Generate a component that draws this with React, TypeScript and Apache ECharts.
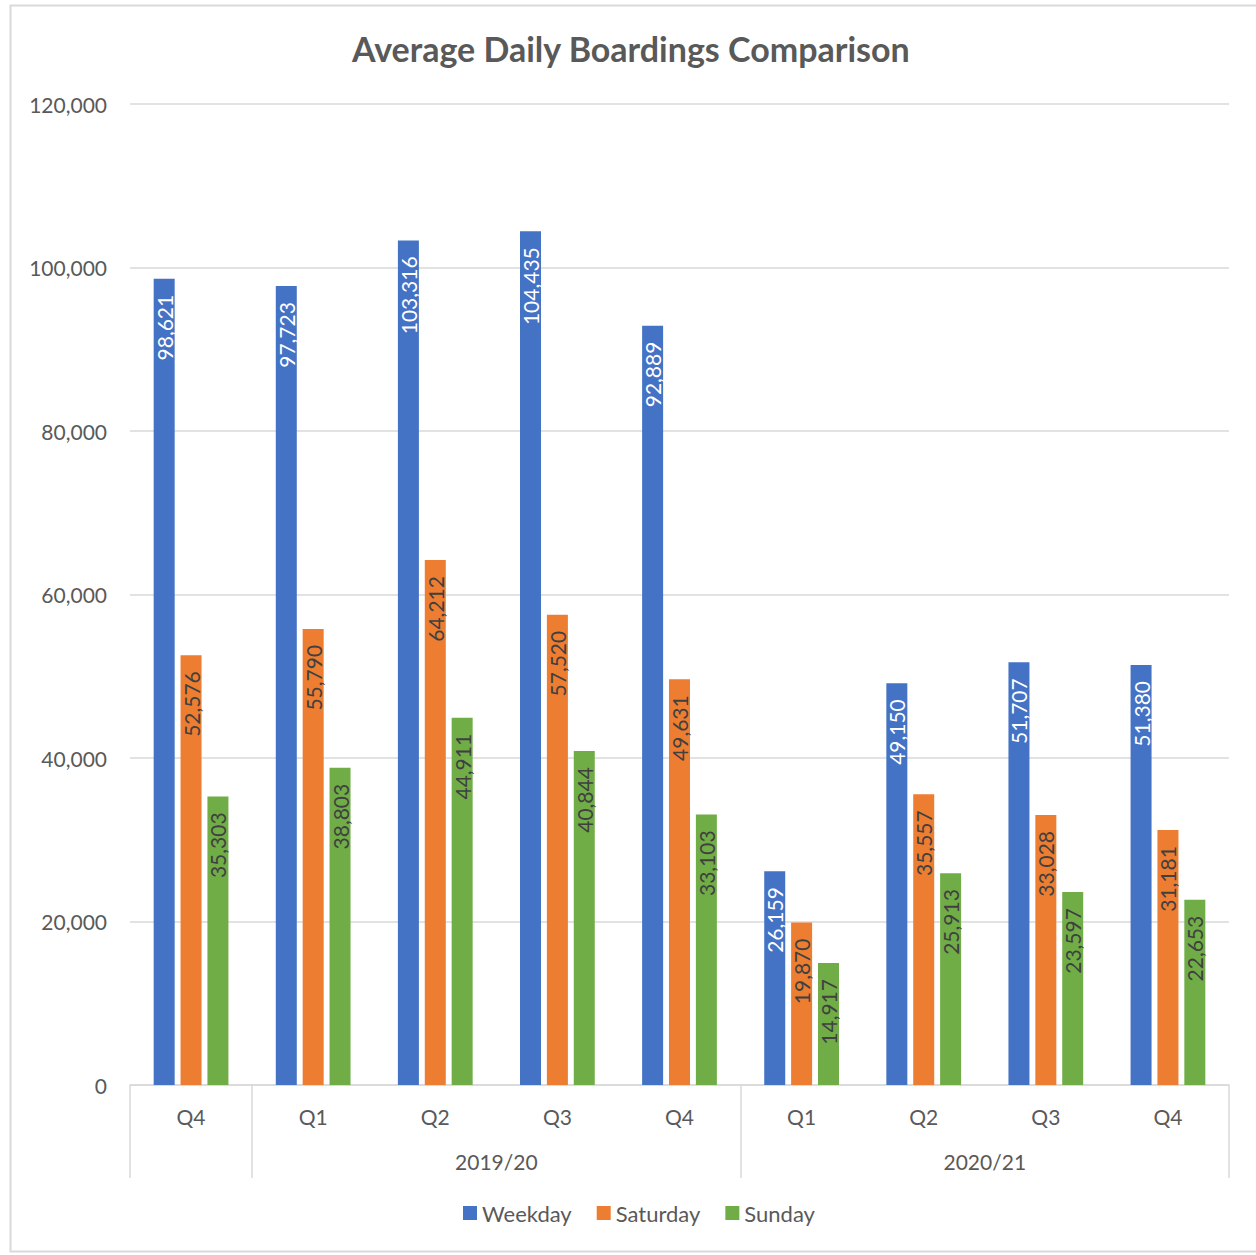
import React, { useEffect, useRef } from "react";
import * as echarts from "echarts";

const quarters = ["Q4", "Q1", "Q2", "Q3", "Q4", "Q1", "Q2", "Q3", "Q4"];
const yearBoundaries = ["", "", "", "2019/20", "", "", "", "2020/21", "", ""];
const yearTickIdx = [0, 1, 5, 9];
const weekday = [98621, 97723, 103316, 104435, 92889, 26159, 49150, 51707, 51380];
const saturday = [52576, 55790, 64212, 57520, 49631, 19870, 35557, 33028, 31181];
const sunday = [35303, 38803, 44911, 40844, 33103, 14917, 25913, 23597, 22653];

const FONT = "Lato";
const fmt = (v: number) => v.toLocaleString("en-US");

export default function App() {
  const ref = useRef<HTMLDivElement>(null);
  useEffect(() => {
    const chart = echarts.init(ref.current!, null, { renderer: "svg" });
    const mkLabel = (color: string) => ({
      show: true,
      position: "insideTop",
      rotate: 90,
      align: "right",
      verticalAlign: "middle",
      distance: 16,
      color,
      fontFamily: FONT,
      fontSize: 21,
      formatter: (p: any) => fmt(p.value),
    });
    chart.setOption({
      animation: false,
      textStyle: { fontFamily: FONT },
      title: {
        text: "Average Daily Boardings Comparison",
        left: 352,
        top: 31,
        padding: 0,
        textStyle: { fontFamily: FONT, fontSize: 34, fontWeight: "bold", color: "#595959" },
      },
      graphic: [
        {
          type: "rect",
          shape: { x: 10.5, y: 5.5, width: 1250, height: 1246 },
          style: { fill: "none", stroke: "#d9d9d9", lineWidth: 2 },
          silent: true,
        },
      ],
      legend: {
        top: 1202,
        left: 463,
        padding: 0,
        icon: "rect",
        itemWidth: 14,
        itemHeight: 14,
        itemGap: 25,
        textStyle: { fontFamily: FONT, fontSize: 22, color: "#595959" },
        data: ["Weekday", "Saturday", "Sunday"],
      },
      grid: { left: 130, right: 27, top: 104, bottom: 170, containLabel: false },
      xAxis: [
        {
          type: "category",
          data: quarters,
          axisLine: { lineStyle: { color: "#d9d9d9", width: 1.5 } },
          axisTick: { show: false },
          axisLabel: { margin: 21, fontFamily: FONT, fontSize: 21, color: "#595959", interval: 0 },
        },
        {
          type: "category",
          data: yearBoundaries,
          boundaryGap: false,
          position: "bottom",
          axisLine: { show: false },
          axisTick: {
            show: true,
            length: 93,
            interval: (i: number) => yearTickIdx.includes(i),
            lineStyle: { color: "#d9d9d9", width: 1.5 },
          },
          axisLabel: { margin: 66, interval: 0, fontFamily: FONT, fontSize: 21, color: "#595959" },
          splitLine: { show: false },
        },
      ],
      yAxis: {
        type: "value",
        min: 0,
        max: 120000,
        interval: 20000,
        axisLine: { show: false },
        axisTick: { show: false },
        splitLine: { lineStyle: { color: "#d9d9d9", width: 1.5 } },
        axisLabel: { margin: 23, fontFamily: FONT, fontSize: 21, color: "#595959", formatter: (v: number) => fmt(v) },
      },
      series: [
        { name: "Weekday", type: "bar", data: weekday, barWidth: 21, barGap: "28%", itemStyle: { color: "#4472c4" }, label: mkLabel("#ffffff") },
        { name: "Saturday", type: "bar", data: saturday, barWidth: 21, barGap: "28%", itemStyle: { color: "#ed7d31" }, label: mkLabel("#404040") },
        { name: "Sunday", type: "bar", data: sunday, barWidth: 21, barGap: "28%", itemStyle: { color: "#70ad47" }, label: mkLabel("#404040") },
      ],
    });
    return () => chart.dispose();
  }, []);
  return <div ref={ref} style={{ position: "absolute", left: 0, top: 0, width: 1256, height: 1255 }} />;
}
